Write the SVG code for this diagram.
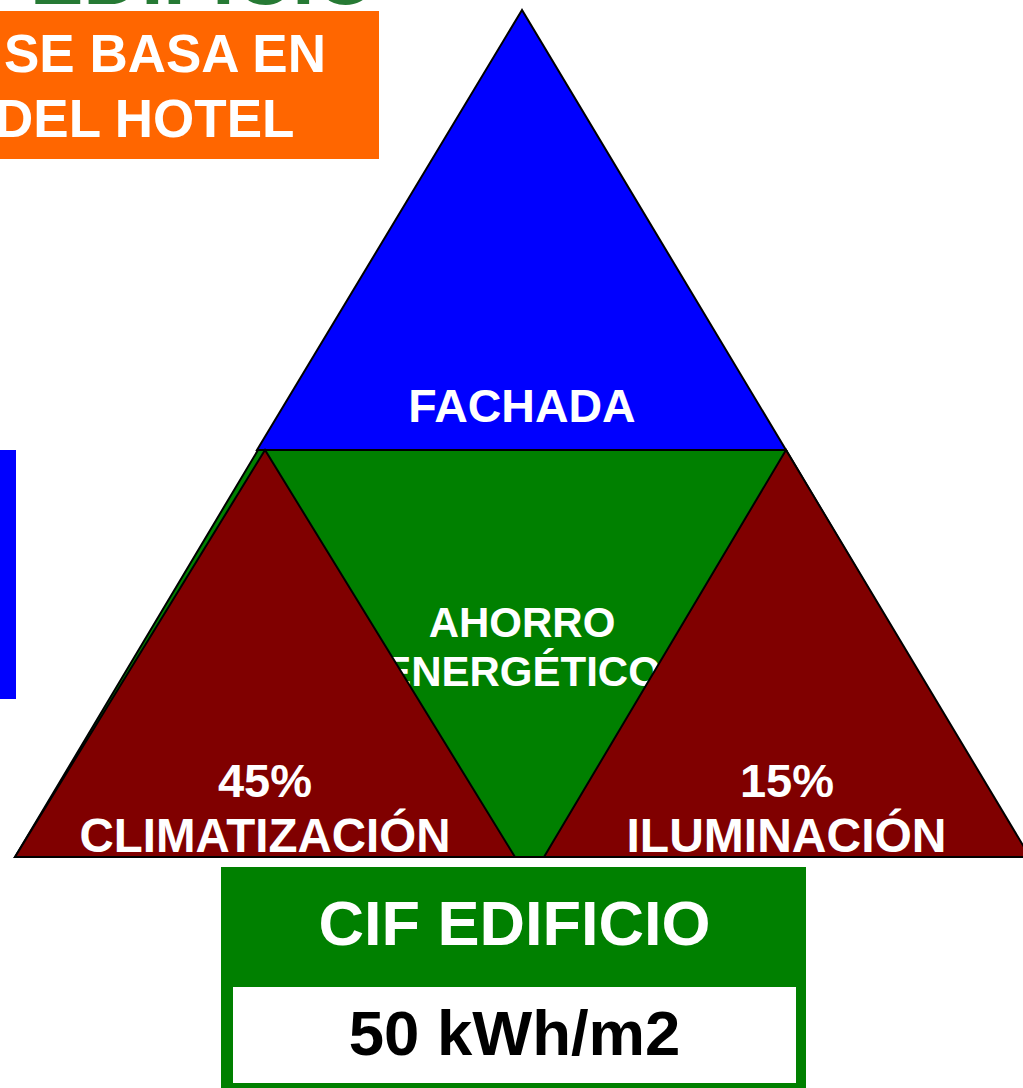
<svg xmlns="http://www.w3.org/2000/svg" width="1023" height="1088" viewBox="0 0 1023 1088">
<style>
.t{font-family:"Liberation Sans",Arial,sans-serif;font-weight:bold;fill:#fff;text-anchor:middle}
.tri{stroke:#000;stroke-width:2;stroke-linejoin:miter}
</style>
<rect width="1023" height="1088" fill="#fff"/>
<g id="title">
<text x="30" y="4" font-family="Liberation Sans,Arial,sans-serif" font-weight="bold" font-size="80" fill="#267a34">EDIFICIO</text>
</g>
<g id="orange-box">
<rect x="0" y="11" width="379" height="148" fill="#ff6600"/>
<text class="t" x="4" y="72" font-size="53" style="text-anchor:start">SE BASA EN</text>
<text class="t" x="-5" y="137" font-size="53" style="text-anchor:start">DEL HOTEL</text>
</g>
<g id="blue-bar">
<rect x="0" y="450" width="16" height="249" fill="#0000ff"/>
</g>
<g id="ahorro">
<polygon class="tri" points="258,450 786,450 1028,857 15,857" fill="#008000"/>
<text class="t" x="522" y="637" font-size="42">AHORRO</text>
<text class="t" x="522" y="686" font-size="42">ENERGÉTICO</text>
</g>
<g id="fachada">
<polygon class="tri" points="522,10 257,450 786,450" fill="#0000ff"/>
<text class="t" x="522" y="422" font-size="46.5">FACHADA</text>
</g>
<g id="climatizacion">
<polygon class="tri" points="265,450 15,857 515,857" fill="#800000"/>
<text class="t" x="265" y="797" font-size="47">45%</text>
<text class="t" x="265" y="852" font-size="47.5">CLIMATIZACIÓN</text>
</g>
<g id="iluminacion">
<polygon class="tri" points="786,450 544,857 1030,857" fill="#800000"/>
<text class="t" x="787" y="797" font-size="47">15%</text>
<text class="t" x="786.5" y="852" font-size="48">ILUMINACIÓN</text>
</g>
<g id="cif">
<rect x="221" y="867" width="585" height="221" fill="#008000"/>
<rect x="233" y="987" width="563" height="96" fill="#fff"/>
<text class="t" x="514.5" y="945" font-size="63">CIF EDIFICIO</text>
<text class="t" x="514.5" y="1055" font-size="63.5" style="fill:#000">50 kWh/m2</text>
</g>
<g id="connectors"/>
</svg>
